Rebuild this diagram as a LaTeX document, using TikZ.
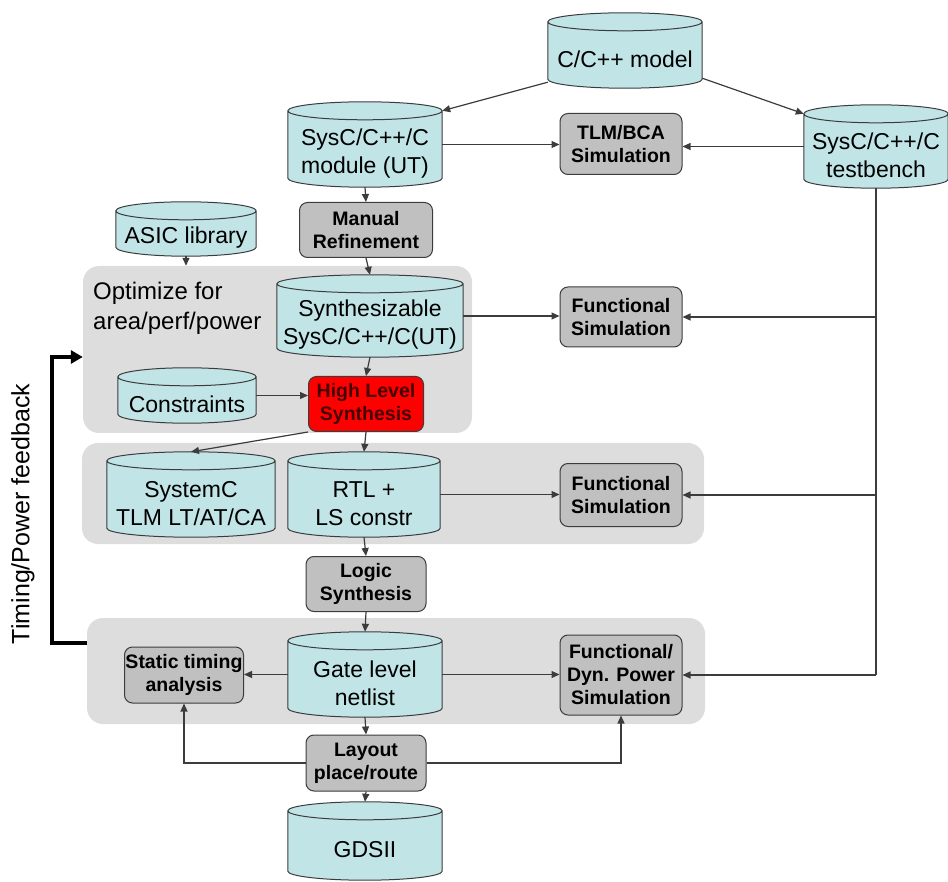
\documentclass[tikz,border=0pt]{standalone}
\usepackage{fontspec}
\setmainfont{Liberation Sans}
\usetikzlibrary{arrows.meta, calc}
\definecolor{dbfill}{RGB}{193,228,231}
\definecolor{simfill}{RGB}{192,192,192}
\definecolor{panfill}{RGB}{221,221,221}
\definecolor{edge}{RGB}{60,60,60}
\definecolor{hlstext}{RGB}{70,0,0}
\pgfdeclarelayer{panels}
\pgfdeclarelayer{drums}
\pgfsetlayers{panels,drums,main}
\tikzstyle{db} = [rectangle, inner sep=0pt]
\tikzstyle{dblabel} = [yshift=-9pt, align=center, inner sep=0pt, font=\fontsize{23}{28}\selectfont]
\tikzstyle{drum} = [fill=dbfill, draw=edge, line width=1pt]
\tikzstyle{sim} = [rectangle, rounded corners=8pt, draw=edge, line width=1pt, fill=simfill, align=center, inner sep=0pt, font=\bfseries\fontsize{19.5}{23}\selectfont]
\tikzstyle{pan} = [rectangle, rounded corners=16pt, fill=panfill, inner sep=0pt]
\tikzstyle{arrow} = [-{Triangle[length=8pt,width=7pt]}, draw=edge, line width=1.2pt]
\tikzstyle{wire} = [draw=edge, line width=1.2pt]
\tikzstyle{feedback} = [-{Triangle[length=12pt,width=13pt]}, line width=4pt]

\begin{document}
\begin{tikzpicture}[x=1pt, y=-1pt]
        \useasboundingbox (0,0) rectangle (948,882);
        % grey panels
        \begin{pgfonlayer}{panels}
        \node[pan, minimum width=389pt, minimum height=167pt] (pan1) at (277.5,349.5) {};
        \node[pan, minimum width=622pt, minimum height=101pt] (pan2) at (393,493.5) {};
        \node[pan, minimum width=618pt, minimum height=106pt] (pan3) at (396,671) {};
        \end{pgfonlayer}

        \node[anchor=north west, align=left, inner sep=0pt, font=\fontsize{24}{30}\selectfont] (opt) at (93,282) {Optimize for\\area/perf/power};
        \node[rotate=90, font=\fontsize{25}{30}\selectfont] (fblabel) at (23,514) {Timing/Power feedback};

        \node[db, minimum width=154pt, minimum height=75pt, label={[dblabel]center:C/C++ model}] (model) at (625,50.5) {};
        \node[db, minimum width=154pt, minimum height=85pt, label={[dblabel]center:SysC/C++/C\\module (UT)}] (modul) at (365,144.5) {};
        \node[sim, minimum width=122pt, minimum height=61pt] (tlm) at (621,144) {TLM/BCA\\Simulation};
        \node[db, minimum width=144pt, minimum height=83pt, label={[dblabel]center:SysC/C++/C\\testbench}] (tb) at (876,146.5) {};

        \node[db, minimum width=140pt, minimum height=54pt, label={[dblabel]center:ASIC library}] (asic) at (186,229) {};
        \node[sim, minimum width=133pt, minimum height=55pt] (manual) at (366,230) {Manual\\Refinement};
        \node[db, minimum width=186pt, minimum height=82pt, label={[dblabel]center:Synthesizable\\SysC/C++/C(UT)}] (synth) at (370,316) {};
        \node[sim, minimum width=122pt, minimum height=60pt] (fs1) at (621,317) {Functional\\Simulation};
        \node[db, minimum width=138pt, minimum height=55pt, label={[dblabel]center:Constraints}] (constr) at (187,395.5) {};
        \node[sim, fill=red, text=hlstext, minimum width=115pt, minimum height=55pt] (hls) at (366,404) {High Level\\Synthesis};

        \node[db, minimum width=168pt, minimum height=85pt, label={[dblabel]center:SystemC\\TLM LT/AT/CA}] (sysc) at (191,494.5) {};
        \node[db, minimum width=152pt, minimum height=85pt, label={[dblabel]center:RTL +\\LS constr}] (rtl) at (364,494.5) {};
        \node[sim, minimum width=122pt, minimum height=63pt] (fs2) at (621,495) {Functional\\Simulation};
        \node[sim, minimum width=120pt, minimum height=55pt] (logic) at (366,584) {Logic\\Synthesis};

        \node[sim, minimum width=119pt, minimum height=56pt] (sta) at (184,675) {Static timing\\analysis};
        \node[db, minimum width=154pt, minimum height=85pt, label={[dblabel]center:Gate level\\netlist}] (gate) at (365,674.5) {};
        \node[sim, minimum width=122pt, minimum height=80pt] (dyn) at (621,675) {Functional/\\Dyn. Power\\Simulation};
        \node[sim, minimum width=120pt, minimum height=56pt] (layout) at (366,763) {Layout\\place/route};
        \node[db, minimum width=154pt, minimum height=78pt, label={[dblabel]center:GDSII}] (gds) at (365,841) {};

        % database drums behind their labels
        \begin{pgfonlayer}{drums}
        \foreach \d in {model,modul,tb,asic,synth,constr,sysc,rtl,gate,gds}
        {\path let \p1=(\d.north west), \p2=(\d.south east), \n1={0.5*(\x2-\x1)} in
           [drum] (\x1,\y1-9pt) -- (\x1,\y2+9pt) arc[start angle=180, end angle=360, x radius={\n1*1pt}, y radius=9pt]
           -- (\x2,\y1-9pt) arc[start angle=0, end angle=180, x radius={\n1*1pt}, y radius=9pt] -- cycle
           (\x1,\y1-9pt) arc[start angle=180, end angle=360, x radius={\n1*1pt}, y radius=9pt];}
        \end{pgfonlayer}

        \draw[arrow] ([yshift=6pt]model.south west) -- ([yshift=-9pt]modul.north east);
        \draw[arrow] ([yshift=10pt]model.south east) -- ([yshift=-9pt]tb.north west);
        \draw[arrow] (modul.east) -- (modul.east -| tlm.west);
        \draw[arrow] (tb.west) -- (tb.west -| tlm.east);
        \draw[arrow] (modul.south) -- (manual.north);
        \draw[arrow] (manual.south) -- (synth.north);
        \draw[arrow] (asic.south) -- (asic.south |- pan1.north);
        \draw[arrow] (synth.south) -- (hls.north);
        \draw[arrow] (synth.east) -- (synth.east -| fs1.west);
        \draw[arrow] (constr.east) -- (constr.east -| hls.west);
        \draw[arrow] (hls.south west) -- (sysc.north);
        \draw[arrow] (hls.south) -- (rtl.north);
        \draw[arrow] (rtl.east) -- (rtl.east -| fs2.west);
        \draw[arrow] (rtl.south) -- (logic.north);
        \draw[arrow] (logic.south) -- (gate.north);
        \draw[arrow] (gate.west) -- (gate.west -| sta.east);
        \draw[arrow] (gate.east) -- (gate.east -| dyn.west);
        \draw[arrow] (gate.south) -- (layout.north);
        \draw[arrow] (layout.south) -- (gds.north);
        \draw[arrow] (layout.west) -| (sta.south);
        \draw[arrow] (layout.east) -| (dyn.south);

        % testbench feeds all simulations
        \draw[wire] (tb.south) -- (tb.south |- dyn.east);
        \draw[arrow] (tb.south |- dyn.east) -- (dyn.east);
        \draw[arrow] (tb.south |- fs1.east) -- (fs1.east);
        \draw[arrow] (tb.south |- fs2.east) -- (fs2.east);

        \draw[feedback] ([yshift=28pt]pan3.west) -- ++(-35,0) |- ([yshift=-7.5pt]pan1.west);
\end{tikzpicture}
\end{document}
